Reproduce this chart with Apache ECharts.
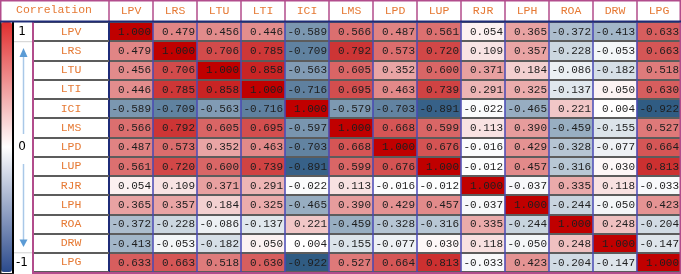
<!DOCTYPE html>
<html>
<head>
<meta charset="utf-8">
<script src="https://cdn.jsdelivr.net/npm/echarts@6/dist/echarts.min.js"></script>
<style>
  html, body { margin: 0; padding: 0; background: #ffffff; }
  #chart { width: 681px; height: 274px; }
</style>
</head>
<body>
<div id="chart"></div>
<script>
// ---- data ----
const variables = ['LPV','LRS','LTU','LTI','ICI','LMS','LPD','LUP','RJR','LPH','ROA','DRW','LPG'];
const scaleLabels = ['1','','','','','','0','','','','','','-1'];
const cornerTitle = 'Correlation';

const rowLPV = [ 1.000,  0.479,  0.456,  0.446, -0.589,  0.566,  0.487,  0.561,  0.054,  0.365, -0.372, -0.413,  0.633];
const rowLRS = [ 0.479,  1.000,  0.706,  0.785, -0.709,  0.792,  0.573,  0.720,  0.109,  0.357, -0.228, -0.053,  0.663];
const rowLTU = [ 0.456,  0.706,  1.000,  0.858, -0.563,  0.605,  0.352,  0.600,  0.371,  0.184, -0.086, -0.182,  0.518];
const rowLTI = [ 0.446,  0.785,  0.858,  1.000, -0.716,  0.695,  0.463,  0.739,  0.291,  0.325, -0.137,  0.050,  0.630];
const rowICI = [-0.589, -0.709, -0.563, -0.716,  1.000, -0.579, -0.703, -0.891, -0.022, -0.465,  0.221,  0.004, -0.922];
const rowLMS = [ 0.566,  0.792,  0.605,  0.695, -0.597,  1.000,  0.668,  0.599,  0.113,  0.390, -0.459, -0.155,  0.527];
const rowLPD = [ 0.487,  0.573,  0.352,  0.463, -0.703,  0.668,  1.000,  0.676, -0.016,  0.429, -0.328, -0.077,  0.664];
const rowLUP = [ 0.561,  0.720,  0.600,  0.739, -0.891,  0.599,  0.676,  1.000, -0.012,  0.457, -0.316,  0.030,  0.813];
const rowRJR = [ 0.054,  0.109,  0.371,  0.291, -0.022,  0.113, -0.016, -0.012,  1.000, -0.037,  0.335,  0.118, -0.033];
const rowLPH = [ 0.365,  0.357,  0.184,  0.325, -0.465,  0.390,  0.429,  0.457, -0.037,  1.000, -0.244, -0.050,  0.423];
const rowROA = [-0.372, -0.228, -0.086, -0.137,  0.221, -0.459, -0.328, -0.316,  0.335, -0.244,  1.000,  0.248, -0.204];
const rowDRW = [-0.413, -0.053, -0.182,  0.050,  0.004, -0.155, -0.077,  0.030,  0.118, -0.050,  0.248,  1.000, -0.147];
const rowLPG = [ 0.633,  0.663,  0.518,  0.630, -0.922,  0.527,  0.664,  0.813, -0.033,  0.423, -0.204, -0.147,  1.000];

const rows = [rowLPV,rowLRS,rowLTU,rowLTI,rowICI,rowLMS,rowLPD,rowLUP,rowRJR,rowLPH,rowROA,rowDRW,rowLPG];

// ---- build ----
const cells = [];
rows.forEach((row, i) => row.forEach((v, j) => cells.push([j, i, v])));

const ORANGE = '#E67A35';
const MAGENTA = '#B24C8C';
const NAVY = '#1F2C78';
const GRAYLINE = '#5C5C5C';
const BLUELINE = '#4848B4';
const TEXTDARK = '#1E1E1E';
const MONO = '"Liberation Mono", "DejaVu Sans Mono", monospace';

const chart = echarts.init(document.getElementById('chart'), null, { renderer: 'canvas' });

const option = {
  animation: false,
  backgroundColor: '#ffffff',
  title: {
    text: cornerTitle,
    left: 54, top: 4,
    textAlign: 'center',
    padding: 0,
    textStyle: { color: ORANGE, fontFamily: MONO, fontSize: 11.5, fontWeight: 'normal' }
  },
  grid: [
    { left: 109, top: 22, width: 572, height: 250, containLabel: false },
    { left: 14, top: 22, width: 19, height: 250, containLabel: false }
  ],
  xAxis: [
    {
      type: 'category', gridIndex: 0, data: variables, position: 'top', z: 3,
      axisLine: { show: false },
      axisTick: { show: true, length: 22, lineStyle: { color: MAGENTA, width: 1.5 } },
      axisLabel: { interval: 0, margin: 11, verticalAlign: 'middle', color: ORANGE, fontFamily: MONO, fontSize: 11.5 },
      splitLine: { show: true, lineStyle: { color: BLUELINE, width: 1.5 } }
    },
    { type: 'value', gridIndex: 1, show: false }
  ],
  yAxis: [
    {
      type: 'category', gridIndex: 0, data: variables, inverse: true, z: 3,
      axisLine: { show: true, lineStyle: { color: NAVY, width: 2 } },
      axisTick: { show: true, length: 75, lineStyle: { color: GRAYLINE, width: 2 } },
      axisLabel: { interval: 0, margin: 38, align: 'center', color: ORANGE, fontFamily: MONO, fontSize: 11.5 },
      splitLine: { show: true, lineStyle: { color: GRAYLINE, width: 2 } }
    },
    {
      type: 'category', gridIndex: 1, data: scaleLabels, inverse: true,
      axisLine: { show: false }, axisTick: { show: false }, splitLine: { show: false },
      axisLabel: { interval: 0, inside: true, margin: 8, align: 'center', color: '#000000',
                   fontFamily: '"DejaVu Sans", sans-serif', fontSize: 12 }
    }
  ],
  visualMap: {
    type: 'continuous', seriesIndex: 0, min: -1, max: 1,
    orient: 'vertical', left: 1, top: 22, itemWidth: 11, itemHeight: 250,
    padding: 0, calculable: false, hoverLink: false, showLabel: false, text: null,
    inRange: { color: ['#1F4E79', '#FFFFFF', '#C00000'] },
    controller: { inRange: { color: ['#2B4A8C', '#FFFFFF', '#E02E2E'] } }
  },
  series: [
    {
      type: 'heatmap', xAxisIndex: 0, yAxisIndex: 0, data: cells,
      itemStyle: { borderWidth: 0 },
      label: { show: false },
      emphasis: { disabled: true }
    },
    {
      // value text, right-aligned in each cell
      type: 'custom', xAxisIndex: 0, yAxisIndex: 0, data: cells, z: 5, silent: true,
      renderItem: function (params, api) {
        const c = api.coord([api.value(0), api.value(1)]);
        const s = api.size([1, 1]);
        return {
          type: 'text',
          style: {
            text: api.value(2).toFixed(3),
            x: c[0] + s[0] / 2 - 2,
            y: c[1] + 0.5,
            fill: TEXTDARK,
            font: '11px ' + MONO,
            align: 'right', verticalAlign: 'middle',
            textAlign: 'right', textVerticalAlign: 'middle'
          }
        };
      }
    }
  ],
  graphic: [
    // header outline
    { type: 'line', z: 10, shape: { x1: 0, y1: 0.75, x2: 681, y2: 0.75 }, style: { stroke: MAGENTA, lineWidth: 1.5 } },
    { type: 'line', z: 10, shape: { x1: 0.75, y1: 0, x2: 0.75, y2: 22 }, style: { stroke: MAGENTA, lineWidth: 1.5 } },
    { type: 'line', z: 10, shape: { x1: 680.25, y1: 0, x2: 680.25, y2: 274 }, style: { stroke: MAGENTA, lineWidth: 1.5 } },
    // navy line below header
    { type: 'line', z: 11, shape: { x1: 0, y1: 21.5, x2: 681, y2: 21.5 }, style: { stroke: NAVY, lineWidth: 2 } },
    // magenta separator between scale column and label column
    { type: 'line', z: 10, shape: { x1: 33, y1: 22, x2: 33, y2: 274 }, style: { stroke: MAGENTA, lineWidth: 2 } },
    // bottom border
    { type: 'line', z: 10, shape: { x1: 33, y1: 273, x2: 681, y2: 273 }, style: { stroke: MAGENTA, lineWidth: 2 } },
    // colour bar frame
    { type: 'line', z: 10, shape: { x1: 0.75, y1: 22, x2: 0.75, y2: 274 }, style: { stroke: '#222222', lineWidth: 1.5 } },
    { type: 'line', z: 10, shape: { x1: 13, y1: 22, x2: 13, y2: 274 }, style: { stroke: '#000000', lineWidth: 2 } },
    { type: 'line', z: 10, shape: { x1: 0, y1: 273.5, x2: 14, y2: 273.5 }, style: { stroke: '#222222', lineWidth: 1 } },
    // light separators in scale column
    { type: 'line', z: 10, shape: { x1: 14, y1: 41.7, x2: 32, y2: 41.7 }, style: { stroke: '#D0D0D0', lineWidth: 1 } },
    { type: 'line', z: 10, shape: { x1: 14, y1: 252.8, x2: 32, y2: 252.8 }, style: { stroke: '#D0D0D0', lineWidth: 1 } },
    // arrows
    { type: 'line', z: 10, shape: { x1: 23.5, y1: 56, x2: 23.5, y2: 134 }, style: { stroke: '#A9C8E8', lineWidth: 1.5 } },
    { type: 'polygon', z: 10, shape: { points: [[23.5, 48], [19.5, 57], [27.5, 57]] }, style: { fill: '#5B9BD5' } },
    { type: 'line', z: 10, shape: { x1: 23.5, y1: 164, x2: 23.5, y2: 241 }, style: { stroke: '#A9C8E8', lineWidth: 1.5 } },
    { type: 'polygon', z: 10, shape: { points: [[23.5, 247], [19.5, 239.5], [27.5, 239.5]] }, style: { fill: '#5B9BD5' } }
  ]
};

chart.setOption(option);
</script>
</body>
</html>
